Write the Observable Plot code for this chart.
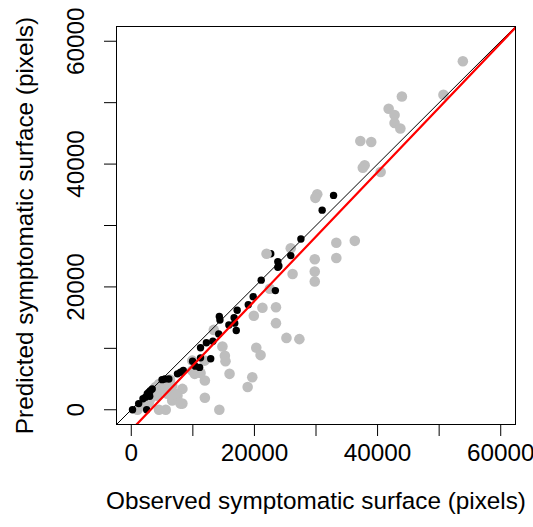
<!DOCTYPE html>
<html>
<head>
<meta charset="utf-8">
<script src="https://cdn.jsdelivr.net/npm/d3@7"></script>
<script src="https://cdn.jsdelivr.net/npm/@observablehq/plot@0.6"></script>
<style>
  html, body { margin: 0; padding: 0; background: #fff; }
  #chart svg { display: block; }
</style>
</head>
<body>
<div id="chart"></div>
<script>
// Gray series: observed vs predicted (pixels)
const grayObserved = [53850, 43950, 50700, 41800, 42760, 42760, 43700, 37200, 38970, 37900, 37600, 40500,
  30200, 29900, 36300, 33300, 33300, 29800, 29800, 29800, 26200, 25900, 21970, 22500,
  23500, 21300, 19900, 23500, 25200, 27300, 20300, 21000, 13400, 14800, 15200, 15300, 15960, 19650, 18900, 14300,
  11950, 11950, 11900, 10300, 11250, 8300, 8300, 6650, 7500, 5600, 4500, 5850, 4200, 5000, 3950, 4500,
  2860, 1800, 1000, 3100, 9900, 9900, 8000, 6300, 7200, 6650, 5600];
const grayPredicted = [56750, 51000, 51300, 49000, 48000, 46700, 45800, 43750, 43600, 39800, 39400, 38700,
  35100, 34500, 27500, 27200, 24700, 24500, 22500, 20900, 22100, 26300, 25400, 19700,
  16700, 16600, 15300, 14100, 11700, 11500, 10100, 8900, 13000, 10300, 8800, 7900, 5850, 5300, 3700, 0,
  4760, 1950, 8000, 5850, 6000, 3400, 1000, 1500, 2300, 0, 0, 2600, 2300, 3400, 3700, 4200,
  1200, 700, 0, 1800, 6400, 8000, 1000, 4900, 2600, 3900, 3700];

// Black series (the first one is drawn beneath the gray points)
const blackObserved = [22650, 32850, 31000, 27550, 25900, 23800, 23970, 23800, 21100, 23400, 19800,
  19000, 17200, 14300, 14400, 16700, 16800, 15850, 17050, 14200, 13250, 12200, 11250, 12900, 9950,
  11250, 10400, 11100, 8450, 8000, 7500, 6100, 5450, 5000, 3400, 3100, 2860, 2600, 2300, 1900, 1200,
  200, 2500, 2700, 3000];
const blackPredicted = [25400, 34900, 32500, 27800, 25100, 24100, 23400, 23200, 21100, 19400, 18400,
  17100, 16200, 15200, 14600, 15000, 14100, 13800, 12900, 12350, 11150, 10900, 10100, 8300, 7900,
  8450, 7100, 6900, 6400, 6100, 5850, 5000, 5000, 4900, 3400, 3100, 2860, 2600, 2050, 1800, 1000,
  0, 0, 2400, 2200];

// Reference lines
const identitySlope = 1, identityIntercept = 0;
const fitSlope = 1.05, fitIntercept = -3300;

const axisDomain = [-2400, 62400];
const tickValues = [0, 10000, 20000, 30000, 40000, 50000, 60000];
const labelValues = [0, 20000, 40000, 60000];

const xTitle = "Observed symptomatic surface (pixels)";
const yTitle = "Predicted symptomatic surface (pixels)";

const gray = grayObserved.map((x, i) => ({x, y: grayPredicted[i]}));
const black = blackObserved.map((x, i) => ({x, y: blackPredicted[i]}));
const blackUnder = black.slice(0, 1);
const blackOver = black.slice(1);
const lineOf = (m, b) => axisDomain.map(x => ({x, y: m * x + b}));

const chart = Plot.plot({
  width: 533,
  height: 527,
  marginLeft: 116,
  marginRight: 18,
  marginTop: 26,
  marginBottom: 103,
  style: {fontFamily: "'Liberation Sans', Arial, sans-serif", fontSize: "24.3px", background: "white", overflow: "visible"},
  x: {domain: axisDomain},
  y: {domain: axisDomain},
  marks: [
    Plot.dot(blackUnder, {x: "x", y: "y", r: 3.7, fill: "black", stroke: "none"}),
    Plot.dot(gray, {x: "x", y: "y", r: 5.3, fill: "#BEBEBE", stroke: "none"}),
    Plot.dot(blackOver, {x: "x", y: "y", r: 3.7, fill: "black", stroke: "none"}),
    Plot.line(lineOf(identitySlope, identityIntercept), {x: "x", y: "y", stroke: "black", strokeWidth: 1, clip: true}),
    Plot.line(lineOf(fitSlope, fitIntercept), {x: "x", y: "y", stroke: "#FF0000", strokeWidth: 2.2, clip: true}),
    Plot.frame({stroke: "black", strokeWidth: 1}),
    Plot.axisX(tickValues, {tickSize: 12, tickFormat: () => "", label: null, strokeWidth: 1}),
    Plot.axisY(tickValues, {tickSize: 12, tickFormat: () => "", label: null, strokeWidth: 1}),
    Plot.text(labelValues, {x: d => d, text: d => String(d), frameAnchor: "bottom", dy: 36.5, fill: "black"}),
    Plot.text(labelValues, {y: d => d, text: d => String(d), frameAnchor: "left", dx: -40.5, rotate: -90, textAnchor: "middle", fill: "black"}),
    Plot.text([xTitle], {text: d => d, frameAnchor: "bottom", dy: 84, fill: "black"}),
    Plot.text([yTitle], {text: d => d, frameAnchor: "left", dx: -91, rotate: -90, textAnchor: "middle", fill: "black"})
  ]
});
document.getElementById("chart").appendChild(chart);
</script>
</body>
</html>
